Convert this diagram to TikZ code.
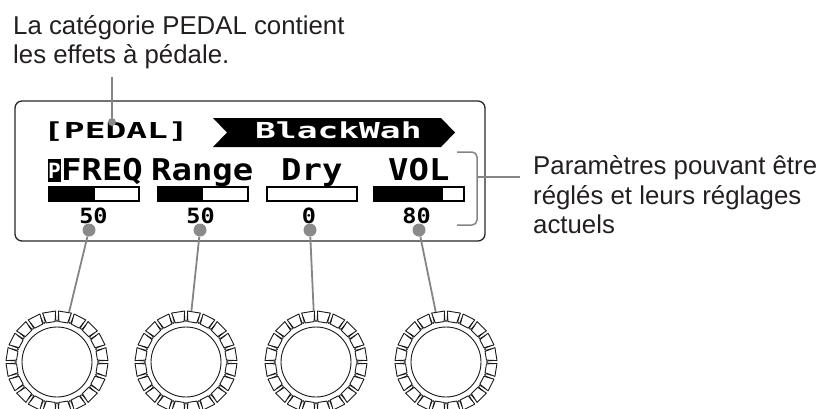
\documentclass[tikz,border=0pt]{standalone}
\usepackage{fontspec}
\setmainfont{Liberation Sans}
\newfontfamily\lcdfont{DejaVu Sans Mono}
\usetikzlibrary{calc}
\definecolor{txt}{HTML}{231F20}
\definecolor{linegrey}{HTML}{858585}
\definecolor{dotgrey}{HTML}{8A8A8A}
\newcommand{\lcdrow}[3]{{\lcdfont\bfseries\fontsize{#1}{#1}\selectfont\scalebox{#2}[1]{#3}}}
\begin{document}
\begin{tikzpicture}[x=1pt,y=-1pt,
  lbl/.style={font=\fontsize{25.8}{29.5}\selectfont, text=txt, inner sep=0pt, align=left},
  lcdtxt/.style={inner sep=0pt, anchor=base west},
  conn/.style={draw=linegrey, line width=1.8pt},
  dotmark/.style={circle, fill=dotgrey, inner sep=0pt, minimum size=13pt},
  smalldot/.style={circle, fill=dotgrey, inner sep=0pt, minimum size=8pt},
  knobnode/.style={circle, inner sep=0pt, minimum size=102pt},
  knobline/.style={draw=black!90, line width=0.9pt},
  bar/.style={draw=black, line width=1.6pt},
  screen/.style={draw=black!85, line width=1.3pt, rounded corners=7pt}
]
\useasboundingbox (0,0) rectangle (825,408);

% labels (base anchor = last line's baseline)
\node[lbl, anchor=base west] (lblTop) at (13,63.5) {La catégorie PEDAL contient\\les effets à pédale.};
\node[lbl, anchor=base west] (lblRight) at (533,233.5) {Paramètres pouvant être\\réglés et leurs réglages\\actuels};

% screen
\draw[screen] (15,101) rectangle (485,241);

% row 1
\node[lcdtxt] (cat) at (43,138) {\lcdrow{22}{1.57}{[PEDAL]}};
\fill[black] (213,118) -- (441,118) -- (455,132.5) -- (441,147) -- (213,147) -- (227,132.5) -- cycle;
\node[lcdtxt, text=white] (fx) at (255,138) {\lcdrow{22}{1.57}{BlackWah}};

% row 2
\fill[black] (48,159) rectangle (61,182);
\node[inner sep=0pt, text=white] (picon) at (54.5,170.5) {\lcdfont\bfseries\fontsize{21}{21}\selectfont P};
\node[lcdtxt] (p1) at (61,180) {\lcdrow{30}{1.13}{FREQ}};
\node[lcdtxt] (p2) at (151,180) {\lcdrow{30}{1.13}{Range}};
\node[lcdtxt] (p3) at (281,180) {\lcdrow{30}{1.13}{Dry}};
\node[lcdtxt] (p4) at (388,180) {\lcdrow{30}{1.13}{VOL}};

% bars
\fill[black] (49,187) rectangle (95,201);
\draw[bar] (49,187) rectangle (139,201);
\fill[black] (158,187) rectangle (203,201);
\draw[bar] (158,187) rectangle (248,201);
\draw[bar] (267,187) rectangle (357,201);
\fill[black] (374,187) rectangle (443,201);
\draw[bar] (374,187) rectangle (464,201);

% values
\node[inner sep=0pt, anchor=base] (v1) at (93.5,223) {\lcdrow{21}{1.12}{50}};
\node[inner sep=0pt, anchor=base] (v2) at (200.5,223) {\lcdrow{21}{1.12}{50}};
\node[inner sep=0pt, anchor=base] (v3) at (309,223) {\lcdrow{21}{1.12}{0}};
\node[inner sep=0pt, anchor=base] (v4) at (416.5,223) {\lcdrow{21}{1.12}{80}};

% bracket
\coordinate (brk) at (477,177);
\coordinate (tick) at (520,177);
\draw[conn, line width=1.5pt, rounded corners=5pt] (457,152) -- (477,152) -- (477,225) -- (457,225);
\draw[conn, line width=1.5pt] (brk) -- (tick);

% top connector
\coordinate (topc) at (112,77);
\node[smalldot] (dTop) at (112,122) {};
\draw[conn] (topc) -- (dTop);

% knobs
\foreach \i/\x in {1/57,2/186,3/316,4/446}{
  \node[knobnode] (k\i) at (\x,362) {};
}
\foreach \i in {1,2,3,4}{
  \begin{scope}[shift={(k\i.center)}]
    \draw[knobline] (0,0) circle[radius=35];
    \foreach \a in {9,27,...,351}{
      \draw[knobline, line join=round] ({\a-6.3}:40.5) -- ({\a-7.4}:51) -- ({\a+7.4}:51) -- ({\a+6.3}:40.5) -- cycle;
    }
    \foreach \b in {0,18,...,342}{
      \draw[knobline] ({\b-1.8}:47) -- ({\b-1.8}:43) .. controls ({\b-1.8}:40) and ({\b+1.8}:40) .. ({\b+1.8}:43) -- ({\b+1.8}:47);
    }
  \end{scope}
}

% value dots and connectors
\node[dotmark] (d1) at (89,230) {};
\node[dotmark] (d2) at (200,230) {};
\node[dotmark] (d3) at (310,230) {};
\node[dotmark] (d4) at (419,230) {};
\foreach \i in {1,2,3,4}{
  \draw[conn] (d\i) -- (k\i);
}
\end{tikzpicture}
\end{document}
